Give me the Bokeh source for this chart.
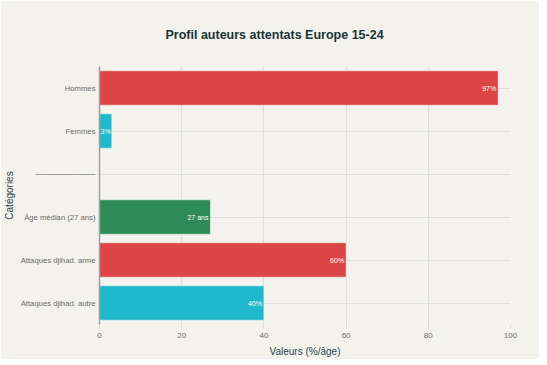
from bokeh.plotting import figure
from bokeh.models import ColumnDataSource, FactorRange, Range1d, FixedTicker
from bokeh.embed import file_html
from bokeh.resources import INLINE
from bokeh.core.properties import value

# ---- data ----
categories = ["Attaques djihad. autre", "Attaques djihad. arme", "Âge médian (27 ans)",
              "─" * 11, "Femmes", "Hommes"]
values = [40, 60, 27, 0, 3, 97]
labels = ["40%", "60%", "27 ans", "", "3%", "97%"]
x_ticks = [0, 20, 40, 60, 80, 100]
palette = ["#1FB8CD", "#DB4545", "#2E8B57", "#F3F2EC", "#1FB8CD", "#DB4545"]

BG = "#F3F2EC"
FONT = "Liberation Sans"

lab_x = [v if v >= 10 else v / 2 for v in values]
lab_align = ["right" if v >= 10 else "center" for v in values]
lab_off = [-2 if v >= 10 else 0 for v in values]

src = ColumnDataSource(dict(cat=categories, val=values, color=palette,
                            lab=labels, lx=lab_x, align=lab_align, off=lab_off))

p = figure(frame_width=411, frame_height=258, y_range=FactorRange(*categories),
           x_range=Range1d(0, 100), output_backend="svg", toolbar_location=None,
           min_border_left=89, min_border_right=29, min_border_top=58, min_border_bottom=33)

p.background_fill_color = BG
p.border_fill_color = BG
p.outline_line_color = None

p.hbar(y="cat", right="val", left=0, height=0.8, fill_color="color",
       line_color="white", line_alpha=0.5, line_width=1, source=src)

p.text(x="lx", y="cat", text="lab", x_offset="off", text_align="align",
       text_baseline="middle", text_color="white", text_font_size="7px",
       text_font=value(FONT), source=src)

p.title.text = "Profil auteurs attentats Europe 15-24"
p.title.align = "left"
p.title.offset = 66
p.title.text_font = FONT
p.title.text_font_size = "12.5px"
p.title.text_font_style = "bold"
p.title.text_color = "#1A3438"
p.title.standoff = 50

p.xaxis.ticker = FixedTicker(ticks=x_ticks)
p.xaxis.axis_label = "Valeurs (%/âge)"
p.yaxis.axis_label = "Catégories"
for ax in (p.xaxis, p.yaxis):
    ax.axis_label_text_font = FONT
    ax.axis_label_text_font_size = "10px"
    ax.axis_label_text_font_style = "normal"
    ax.axis_label_text_color = "#2E4450"
    ax.major_label_text_font = FONT
    ax.major_label_text_font_size = "7.7px"
    ax.major_label_text_color = "#6B6B6B"
    ax.minor_tick_line_color = None
    ax.minor_tick_out = 0
    ax.minor_tick_in = 0

p.xaxis.major_label_text_font_size = "8px"
p.xaxis.axis_line_color = None
p.xaxis.major_tick_line_color = "#DADAD4"
p.xaxis.major_tick_out = 4
p.xaxis.major_tick_in = 0
p.xaxis.major_label_standoff = 4
p.xaxis.axis_label_standoff = 5

p.yaxis.axis_line_color = "#A0A09C"
p.yaxis.axis_line_width = 1.5
p.yaxis.major_tick_line_color = None
p.yaxis.major_tick_out = 0
p.yaxis.major_tick_in = 0
p.yaxis.major_label_standoff = 4
p.yaxis.axis_label_standoff = 3

p.xgrid.grid_line_color = "#DFDFD9"
p.ygrid.grid_line_color = "#DFDFD9"

open("out.html", "w").write(file_html(p, INLINE))
